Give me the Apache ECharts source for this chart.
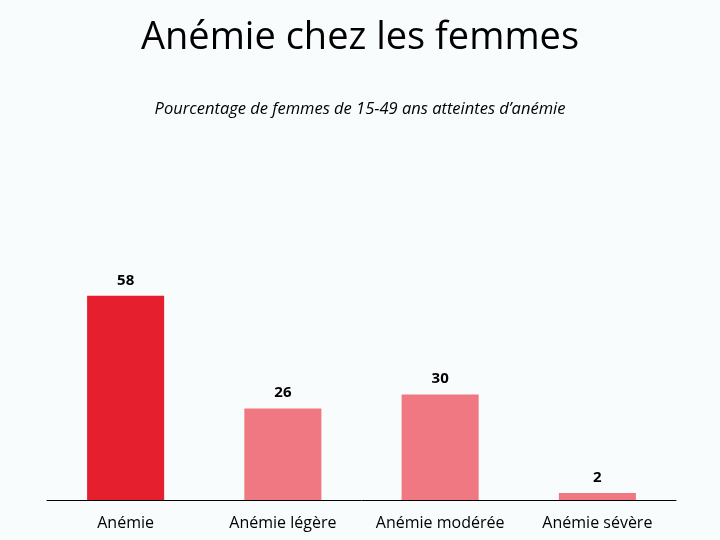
<!DOCTYPE html>
<html><head><meta charset="utf-8">
<script src="https://cdn.jsdelivr.net/npm/echarts@6/dist/echarts.min.js"></script>
<style>html,body{margin:0;padding:0;background:#F9FCFC;}#c{width:720px;height:540px;}</style>
</head><body><div id="c"></div>
<script>
var categories = ["Anémie", "Anémie légère", "Anémie modérée", "Anémie sévère"];
var values = [58, 26, 30, 2];
var barColors = ["#E61F2E", "#EF7882", "#EF7882", "#EF7882"];

var chart = echarts.init(document.getElementById('c'));
chart.setOption({
  backgroundColor: '#F9FCFC',
  animation: false,
  title: [{
    text: 'Anémie chez les femmes',
    left: 'center', top: 14,
    textStyle: {fontFamily: 'Open Sans', fontSize: 38, fontWeight: 'normal', color: '#000'}
  }, {
    text: 'Pourcentage de femmes de 15-49 ans atteintes d\u2019anémie',
    left: 'center', top: 96,
    textStyle: {fontFamily: 'Open Sans', fontSize: 16.5, fontStyle: 'italic', fontWeight: 'normal', color: '#000'}
  }],
  grid: {left: 47, right: 44, top: 148, bottom: 40},
  xAxis: {
    type: 'category', data: categories,
    axisLine: {lineStyle: {color: '#000', width: 1}},
    axisTick: {show: false},
    axisLabel: {interval: 0, hideOverlap: false, fontFamily: 'Open Sans', fontSize: 16, color: '#000', margin: 15}
  },
  yAxis: {type: 'value', min: 0, max: 100, show: false, splitLine: {show: false}},
  series: [{
    type: 'bar', barWidth: '49%',
    data: values.map(function (v, i) { return {value: v, itemStyle: {color: barColors[i]}}; }),
    label: {show: true, position: 'top', distance: 8, fontFamily: 'Open Sans', fontSize: 15, fontWeight: 'bold', color: '#000'}
  }]
});
</script></body></html>
